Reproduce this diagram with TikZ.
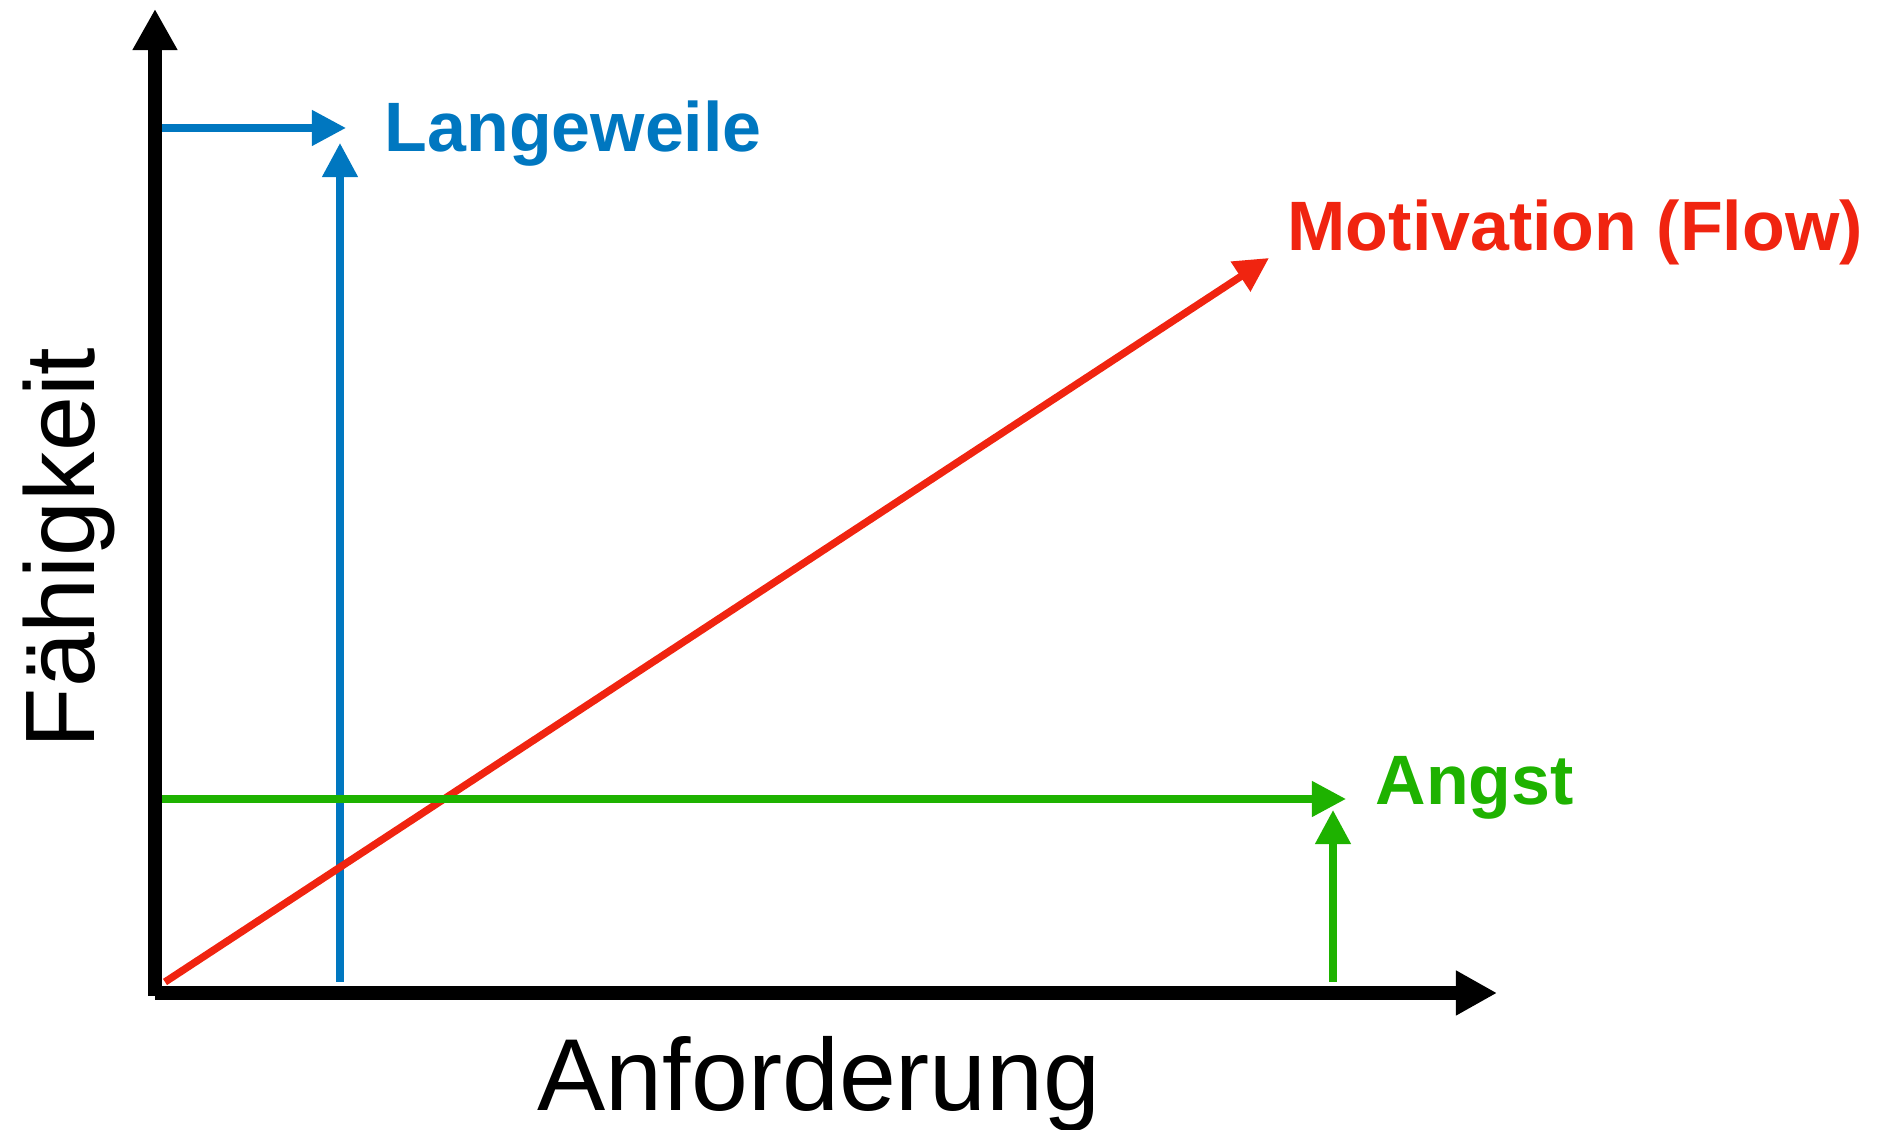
\documentclass[tikz,border=0pt]{standalone}
\usepackage{fontspec}
\setmainfont{Liberation Sans}
\usetikzlibrary{arrows.meta}
\definecolor{lwblue}{RGB}{0,119,192}
\definecolor{flowred}{RGB}{240,36,16}
\definecolor{angstgreen}{RGB}{30,178,0}
\tikzset{
  achse/.style={line width=4pt,-{Triangle[length=11.7pt,width=12pt]}},
  pfeil/.style={line width=2.1pt,-{Triangle[length=9.7pt,width=9.7pt]}},
  gross/.style={inner sep=0pt,font=\fontsize{29.1pt}{34pt}\selectfont},
  grossy/.style={inner sep=0pt,font=\fontsize{28.1pt}{34pt}\selectfont},
  marke/.style={inner sep=0pt,font=\bfseries\fontsize{19.9pt}{24pt}\selectfont}
}
\begin{document}
\begin{tikzpicture}
  \useasboundingbox (0,0) rectangle (18.83,11.30);
  % Punkte
  \coordinate (O) at (1.55,1.34);
  \coordinate (ytip) at (1.55,11.21);
  \coordinate (xstart) at (1.55,1.37);
  \coordinate (xtip) at (14.97,1.37);
  \coordinate (lwstart) at (1.62,10.02);
  \coordinate (lwtip) at (3.46,10.02);
  \coordinate (lwfuss) at (3.40,1.48);
  \coordinate (lwup) at (3.40,9.87);
  \coordinate (flowstart) at (1.65,1.48);
  \coordinate (flowtip) at (12.69,8.72);
  \coordinate (angststart) at (1.62,3.31);
  \coordinate (angsttip) at (13.46,3.31);
  \coordinate (angstfuss) at (13.33,1.48);
  \coordinate (angstup) at (13.33,3.20);
  % Achsen
  \draw[achse] (O) -- (ytip);
  \draw[achse] (xstart) -- (xtip);
  \node[gross,anchor=base west] (anf) at (5.37,0.19) {Anforderung};
  \node[grossy,anchor=base west,rotate=90] (faeh) at (0.94,3.81) {Fähigkeit};
  % Langeweile
  \draw[pfeil,lwblue] (lwstart) -- (lwtip);
  \draw[pfeil,lwblue] (lwfuss) -- (lwup);
  \node[marke,lwblue,anchor=base west] (lw) at (3.84,9.78) {Langeweile};
  % Flow
  \draw[pfeil,flowred] (flowstart) -- (flowtip);
  \node[marke,flowred,anchor=base west] (flow) at (12.87,8.79) {Motivation (Flow)};
  % Angst
  \draw[pfeil,angstgreen] (angststart) -- (angsttip);
  \draw[pfeil,angstgreen] (angstfuss) -- (angstup);
  \node[marke,angstgreen,anchor=base west] (angst) at (13.75,3.25) {Angst};
\end{tikzpicture}
\end{document}
